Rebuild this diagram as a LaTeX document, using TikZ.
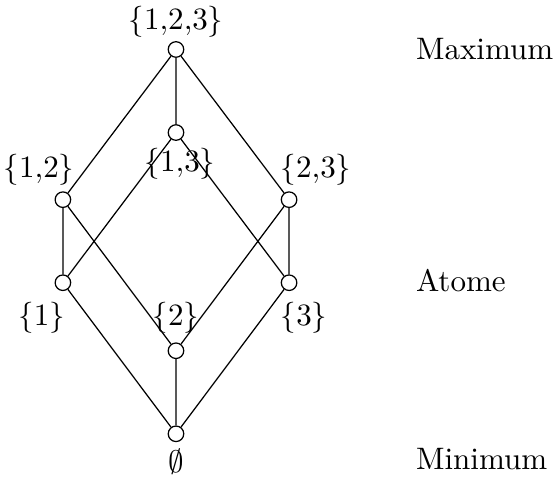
\documentclass[tikz,border=0pt]{standalone}
\usepackage{tikz}
\usepackage{amssymb}
\tikzset{
  elem/.style={circle, draw, fill=white, inner sep=0pt, minimum size=5pt},
  rang/.style={anchor=west, inner sep=0pt}
}

\begin{document}
\begin{tikzpicture}
    \useasboundingbox (-1.992,-0.51) rectangle (4.29,4.91);
    % elements of the lattice
    \node[elem, label={[yshift=0.317cm]center:$\{1{,}2{,}3\}$}] (s123) at (0,4.35) {};
    \node[elem, label={[xshift=-0.27cm, yshift=0.34cm]center:$\{1{,}2\}$}] (s12) at (-1.28,2.65) {};
    \node[elem, label={[xshift=0.045cm, yshift=-0.35cm]center:$\{1{,}3\}$}] (s13) at (0,3.41) {};
    \node[elem, label={[xshift=0.305cm, yshift=0.34cm]center:$\{2{,}3\}$}] (s23) at (1.28,2.65) {};
    \node[elem, label={[xshift=-0.24cm, yshift=-0.40cm]center:$\{1\}$}] (s1) at (-1.28,1.71) {};
    \node[elem, label={[yshift=0.37cm]center:$\{2\}$}] (s2) at (0,0.94) {};
    \node[elem, label={[xshift=0.17cm, yshift=-0.40cm]center:$\{3\}$}] (s3) at (1.28,1.71) {};
    \node[elem, label={[yshift=-0.317cm]center:$\emptyset$}] (s0) at (0,0) {};

    \draw (s123) -- (s12) (s123) -- (s13) (s123) -- (s23);
    \draw (s12) -- (s1) (s12) -- (s2);
    \draw (s13) -- (s1) (s13) -- (s3);
    \draw (s23) -- (s2) (s23) -- (s3);
    \draw (s1) -- (s0) (s2) -- (s0) (s3) -- (s0);

    % names of the levels
    \node[rang] (max) at (2.71,4.35) {Maximum};
    \node[rang] (atom) at (2.71,1.74) {Atome};
    \node[rang] (min) at (2.71,-0.29) {Minimum};
  \end{tikzpicture}
\end{document}
